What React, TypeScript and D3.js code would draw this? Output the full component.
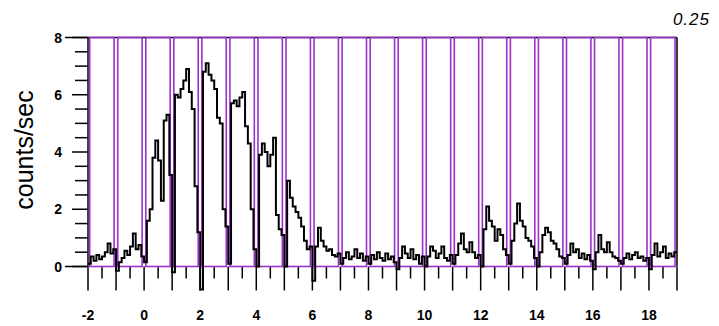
import React from "react";
import * as d3 from "d3";

// Light curve binned at 0.1 s, starting at t = -2
const BIN_START = -2;
const BIN_WIDTH = 0.1;
const rates: number[] = [
  // -2 .. -1
  0.1, 0.35, 0.2, 0.4, 0.25, 0.35, 0.5, 0.8, 0.45, 0.6,
  // -1 .. 0
  -0.15, 0.15, 0.3, 0.55, 0.4, 0.7, 1.15, 0.6, 0.75, 0.35,
  // 0 .. 1
  0.15, 1.6, 2.0, 3.8, 4.4, 3.7, 2.3, 5.1, 5.3, 3.2,
  // 1 .. 2
  -0.2, 6.0, 5.9, 6.2, 6.5, 6.9, 6.1, 5.5, 2.8, 1.2,
  // 2 .. 3
  -0.8, 6.8, 7.1, 6.7, 6.5, 6.2, 5.2, 5.0, 2.0, 1.4,
  // 3 .. 4
  0.1, 5.7, 5.8, 5.6, 5.9, 6.1, 4.9, 4.3, 2.0, 0.6,
  // 4 .. 5
  0.0, 3.9, 4.3, 4.0, 3.5, 3.9, 4.5, 1.8, 1.3, 1.1,
  // 5 .. 6
  0.0, 3.0, 2.4, 2.1, 1.9, 1.7, 1.4, 0.9, 0.6, 0.7,
  // 6 .. 7
  -0.5, 0.7, 1.35, 0.9, 0.7, 0.55, 0.6, 0.4, 0.35, 0.45,
  // 7 .. 8
  0.1, 0.3, 0.5, 0.25, 0.35, 0.6, 0.3, 0.45, 0.2, 0.35,
  // 8 .. 9
  0.1, 0.4, 0.25, 0.5, 0.3, 0.2, 0.45, 0.25, 0.35, 0.15,
  // 9 .. 10
  -0.1, 0.3, 0.7, 0.45, 0.3, 0.6, 0.25, 0.4, 0.1, 0.35,
  // 10 .. 11
  0.0, 0.35, 0.7, 0.55, 0.3, 0.45, 0.7, 0.3, 0.2, 0.4,
  // 11 .. 12
  0.1, 0.4, 0.8, 1.15, 0.6, 0.5, 0.85, 0.5, 0.3, 0.4,
  // 12 .. 13
  0.0, 1.3, 2.1, 1.6, 1.4, 0.9, 1.3, 1.1, 0.6, 0.4,
  // 13 .. 14
  0.1, 0.9, 1.5, 2.2, 1.6, 1.4, 1.0, 0.9, 0.7, 0.3,
  // 14 .. 15
  0.0, 0.5, 1.1, 1.35, 1.2, 0.9, 0.8, 0.6, 0.35, 0.3,
  // 15 .. 16
  0.1, 0.4, 0.8, 0.5, 0.6, 0.3, 0.45, 0.25, 0.4, 0.2,
  // 16 .. 17
  -0.1, 0.5, 1.1, 0.6, 0.5, 0.85, 0.5, 0.35, 0.3, 0.2,
  // 17 .. 18
  0.1, 0.3, 0.45, 0.25, 0.4, 0.5, 0.3, 0.35, 0.2, 0.3,
  // 18 .. 19
  -0.1, 0.4, 0.8, 0.35, 0.5, 0.7, 0.3, 0.45, 0.35, 0.5,
];

// One-second windows outlined on the plot
const windowStarts: number[] = d3.range(-2, 19);
const WINDOW_INSET_START = 0.06;
const WINDOW_INSET_END = 0.07;

const xTickLabels: number[] = [-2, 0, 2, 4, 6, 8, 10, 12, 14, 16, 18];
const yTickLabels: number[] = [0, 2, 4, 6, 8];
const binLabel = "0.25";
const yTitle = "counts/sec";

const W = 719;
const H = 326;
const PURPLE = "#9932cc";
const FONT = "'Liberation Sans', Arial, sans-serif";

export default function App() {
  const x = d3.scaleLinear().domain([-2, 19]).range([88, 677]);
  const y = d3.scaleLinear().domain([0, 8]).range([266.5, 37.5]);

  const points: [number, number][] = rates.map((v, i) => [
    BIN_START + i * BIN_WIDTH,
    v,
  ]);
  points.push([BIN_START + rates.length * BIN_WIDTH, rates[rates.length - 1]]);

  const line = d3
    .line<[number, number]>()
    .x((d) => x(d[0]))
    .y((d) => y(d[1]))
    .curve(d3.curveStepAfter);

  const xMinor = d3.range(-2, 19.01, 0.5);
  const yMinor = d3.range(0, 8.01, 0.5);

  return (
    <svg
      width={W}
      height={H}
      style={{ position: "absolute", left: 0, top: 0, background: "#fff" }}
    >
      <rect x={0} y={0} width={W} height={H} fill="#fff" />

      {/* frame: left axis, top and right edges */}
      <line x1={x(-2)} x2={x(-2)} y1={y(8)} y2={y(0)} stroke="#000" strokeWidth={1.5} />
      <line x1={65} x2={x(19)} y1={y(8)} y2={y(8)} stroke="#000" strokeWidth={1.5} />
      <line x1={x(19)} x2={x(19)} y1={y(8)} y2={y(0)} stroke="#000" strokeWidth={1.5} />
      <line x1={65} x2={x(-2)} y1={y(0)} y2={y(0)} stroke="#000" strokeWidth={1.5} />

      {/* y ticks */}
      {yMinor.map((v) => {
        const major = Math.abs(v % 2) < 1e-6;
        const len = major ? 16 : 13;
        return (
          <line
            key={"yt" + v}
            x1={x(-2) - len}
            x2={x(-2)}
            y1={y(v)}
            y2={y(v)}
            stroke="#000"
            strokeWidth={1.5}
          />
        );
      })}
      {yTickLabels.map((v) => (
        <text
          key={"yl" + v}
          x={62}
          y={y(v)}
          dy="0.36em"
          textAnchor="end"
          fontFamily={FONT}
          fontWeight="bold"
          fontSize={14}
        >
          {v}
        </text>
      ))}

      {/* x ticks */}
      {xMinor.map((v) => {
        const major = Math.abs(v - Math.round(v)) < 1e-6;
        const len = major ? 24 : 12;
        return (
          <line
            key={"xt" + v}
            x1={x(v)}
            x2={x(v)}
            y1={y(0)}
            y2={y(0) + len}
            stroke="#000"
            strokeWidth={1.5}
          />
        );
      })}
      {xTickLabels.map((v) => (
        <text
          key={"xl" + v}
          x={x(v)}
          y={320}
          textAnchor="middle"
          fontFamily={FONT}
          fontWeight="bold"
          fontSize={14}
        >
          {v}
        </text>
      ))}

      {/* one-second windows */}
      {windowStarts.map((s) => (
        <rect
          key={"w" + s}
          x={x(s + WINDOW_INSET_START)}
          y={y(8)}
          width={x(s + 1 - WINDOW_INSET_END) - x(s + WINDOW_INSET_START)}
          height={y(0) - y(8)}
          fill="none"
          stroke={PURPLE}
          strokeWidth={1.6}
        />
      ))}

      {/* light curve */}
      <path
        d={line(points) ?? ""}
        fill="none"
        stroke="#000"
        strokeWidth={2}
        strokeLinejoin="miter"
      />

      <text
        transform="translate(33,150) rotate(-90)"
        textAnchor="middle"
        fontFamily={FONT}
        fontSize={25}
      >
        {yTitle}
      </text>

      <text
        x={710}
        y={25}
        textAnchor="end"
        fontFamily={FONT}
        fontStyle="italic"
        fontSize={17}
        letterSpacing={1}
      >
        {binLabel}
      </text>
    </svg>
  );
}
